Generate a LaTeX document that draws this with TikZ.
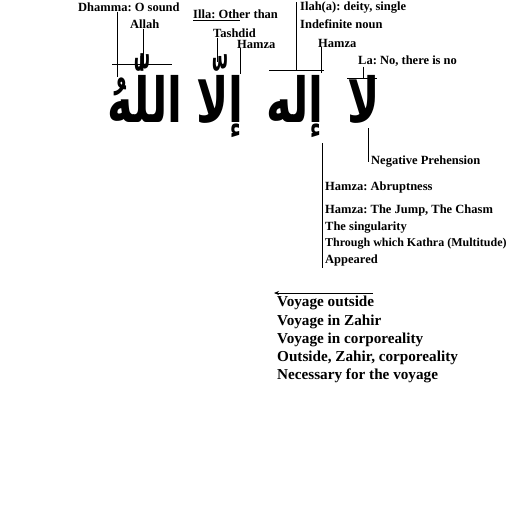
\documentclass[tikz,border=0pt]{standalone}
\usepackage{fontspec}
\setmainfont{Liberation Serif}
\newfontfamily\arabicfont[Script=Arabic]{DejaVu Sans}
\TeXXeTstate=1
\usetikzlibrary{arrows.meta, positioning}
\newcommand{\arword}[1]{\scalebox{0.7}[1]{\arabicfont\bfseries\beginR #1\endR}}

\begin{document}
\frenchspacing
\begin{tikzpicture}[x=1pt, y=-1pt,
  lbl/.style={font=\fontsize{12.5}{14}\selectfont\bfseries, inner sep=0pt, anchor=west},
  voy/.style={font=\fontsize{15.2}{17}\selectfont\bfseries, inner sep=0pt, anchor=west},
  word/.style={font=\fontsize{62}{66}\selectfont, inner sep=0pt, anchor=base},
  ptr/.style={line width=0.8pt}]
  \useasboundingbox (0,0) rectangle (512,512);
  % the shahada
  \node[word] (la)    at (364,122) {\arword{لا}};
  \node[word] (ilah)  at (295,122) {\arword{إله}};
  \node[word] (illa)  at (220,122) {\arword{إلّا}};
  \node[word] (allah) at (145,122) {\arword{اللّٰهُ}};
  % labels above
  \node[lbl] (dhamma)   at (78,7)   {Dhamma: O sound};
  \node[lbl] (allahlbl) at (130,24) {Allah};
  \node[lbl] (illalbl)  at (193,14) {Illa: Other than};
  \node[lbl] (tashdid)  at (213,33) {Tashdid};
  \node[lbl] (hamzaa)   at (237,44) {Hamza};
  \node[lbl] (ilahlbl)  at (300,8)  {Ilah(a): deity, single};
  \node[lbl] (indef)    at (300,24) {Indefinite noun};
  \node[lbl] (hamzab)   at (318,43) {Hamza};
  \node[lbl] (lalbl)    at (358,61) {La: No, there is no};
  % pointers
  \coordinate (dh-end) at (117,77);
  \coordinate (al-bar) at (143,64);
  \draw[ptr] (dhamma.south -| dh-end) -- (dh-end);
  \draw[ptr] (allahlbl.south -| al-bar) -- (al-bar);
  \draw[ptr] (112,64) -- (172,64);
  \draw[ptr] (illalbl.south west) ++(0,2) -- ++(47,0);
  \coordinate (ta-end) at (217,62);
  \draw[ptr] (tashdid.south -| ta-end) -- (ta-end);
  \coordinate (ha-end) at (240,74);
  \draw[ptr] (hamzaa.south -| ha-end) -- (ha-end);
  \coordinate (il-bar) at (296,70);
  \draw[ptr] (ilahlbl.north -| il-bar) -- (il-bar);
  \draw[ptr] (269,70) -- (324,70);
  \coordinate (hb-end) at (321,73);
  \draw[ptr] (hamzab.south -| hb-end) -- (hb-end);
  \coordinate (la-bar) at (363,78);
  \draw[ptr] (lalbl.south -| la-bar) -- (la-bar);
  \draw[ptr] (347,78) -- (377,78);
  % labels below
  \node[lbl] (negative) at (371,162) {Negative Prehension};
  \coordinate (ng-top) at (368,128);
  \draw[ptr] (ng-top) -- (negative.west -| ng-top);
  \node[lbl] (abrupt) at (325,187) {Hamza: Abruptness};
  \node[lbl] (jump)   at (325,210) {Hamza: The Jump, The Chasm};
  \node[lbl] (sing)   at (325,228) {The singularity};
  \node[lbl, font=\fontsize{12}{14}\selectfont\bfseries] (kathra) at (325,244) {Through which Kathra (Multitude)};
  \node[lbl] (appear) at (325,260) {Appeared};
  \coordinate (hz-top) at (322,143);
  \coordinate (hz-end) at (322,268);
  \draw[ptr] (hz-top) -- (hz-end);
  % voyage
  \coordinate (arr-r) at (373,293);
  \coordinate (arr-l) at (274,293);
  \draw[ptr, -{Stealth[length=5pt, width=4pt]}] (arr-r) -- (arr-l);
  \node[voy] (v1) at (277,303) {Voyage outside};
  \node[voy] (v2) at (277,322) {Voyage in Zahir};
  \node[voy] (v3) at (277,340) {Voyage in corporeality};
  \node[voy] (v4) at (277,358) {Outside, Zahir, corporeality};
  \node[voy] (v5) at (277,376) {Necessary for the voyage};
\end{tikzpicture}
\end{document}
